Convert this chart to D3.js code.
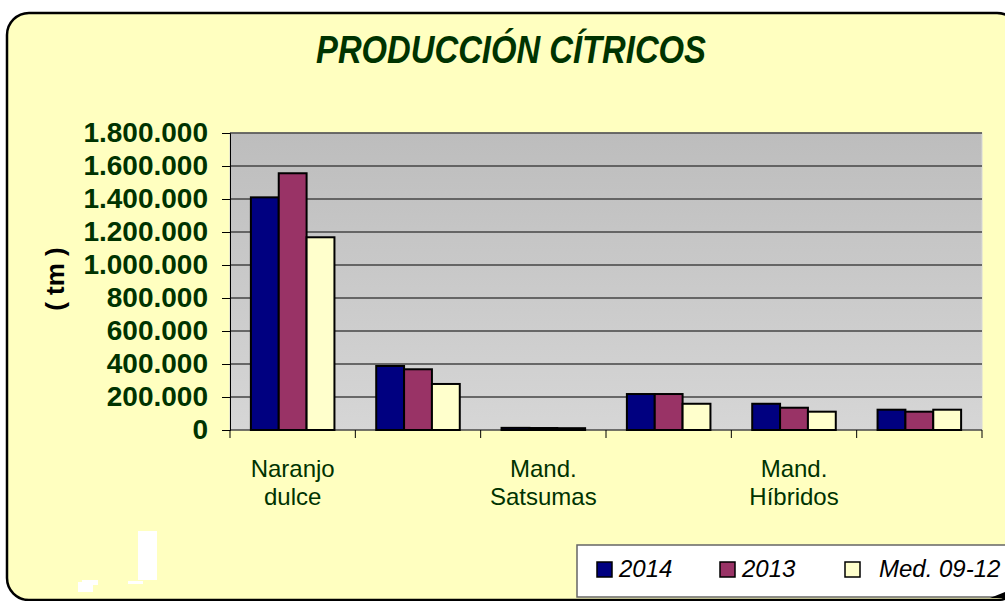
<!DOCTYPE html>
<html lang="es">
<head>
  <meta charset="UTF-8">
  <title>Producción cítricos</title>
  <script src="https://d3js.org/d3.v7.min.js"></script>
  <style>
    body { margin: 0; background: #ffffff; }
    svg { display: block; font-family: "Liberation Sans", Arial, sans-serif; }
  </style>
</head>
<body>
  <svg id="chart"></svg>

  <script>
    // data (tm)
    const categories = ["Naranjo dulce", "c2", "Mand. Satsumas", "c4", "Mand. Híbridos", "c6"];
    const catLabels = [["Naranjo", "dulce"], [], ["Mand.", "Satsumas"], [], ["Mand.", "Híbridos"], []];
    const seriesNames = ["2014", "2013", "Med. 09-12"];
    const serie2014 = [1410000, 388000, 13000, 218000, 159000, 123000];
    const serie2013 = [1556000, 368000, 12000, 218000, 135000, 111000];
    const serieMed = [1168000, 279000, 11000, 159000, 111000, 123000];
    const yTicks = [0, 200000, 400000, 600000, 800000, 1000000, 1200000, 1400000, 1600000, 1800000];

    const colors = ["#000080", "#993366", "#ffffcc"];
    const seriesValues = [serie2014, serie2013, serieMed];

    const width = 1005, height = 601;
    const svg = d3.select("#chart").attr("width", width).attr("height", height);

    const plot = { left: 230, right: 982, top: 133, bottom: 430 };

    // chart area with rounded border
    svg.append("rect")
      .attr("x", 7).attr("y", 13).attr("width", 1012).attr("height", 587)
      .attr("rx", 22).attr("ry", 22)
      .attr("fill", "#ffffc0").attr("stroke", "#000").attr("stroke-width", 2.5);

    // white leftovers at bottom left
    const junk = [[138, 531, 19, 49], [128, 581, 15, 3], [78, 582, 15, 10], [82, 580, 16, 5]];
    svg.selectAll("rect.junk").data(junk).enter().append("rect")
      .attr("class", "junk")
      .attr("x", d => d[0]).attr("y", d => d[1]).attr("width", d => d[2]).attr("height", d => d[3])
      .attr("fill", "#fff");

    // title
    svg.append("text")
      .attr("x", 511).attr("y", 63)
      .attr("text-anchor", "middle")
      .attr("font-size", 38).attr("font-weight", "bold").attr("font-style", "italic")
      .attr("textLength", 390).attr("lengthAdjust", "spacingAndGlyphs")
      .attr("fill", "#003300")
      .text("PRODUCCIÓN CÍTRICOS");

    const x = d3.scaleBand().domain(categories).range([plot.left, plot.right]);
    const inner = d3.scaleBand().domain(seriesNames)
      .range([0, x.bandwidth()]).paddingOuter(0.75).paddingInner(0);
    const y = d3.scaleLinear().domain([0, 1800000]).range([plot.bottom, plot.top]);

    // plot background gradient
    const defs = svg.append("defs");
    const grad = defs.append("linearGradient").attr("id", "bg")
      .attr("x1", 0).attr("y1", 0).attr("x2", 0).attr("y2", 1);
    grad.append("stop").attr("offset", "0%").attr("stop-color", "#bdbdbd");
    grad.append("stop").attr("offset", "100%").attr("stop-color", "#d6d6d6");

    svg.append("rect")
      .attr("x", plot.left).attr("y", plot.top)
      .attr("width", plot.right - plot.left).attr("height", plot.bottom - plot.top)
      .attr("fill", "url(#bg)").attr("stroke", "#d8d8d8");

    // gridlines
    svg.append("g").selectAll("line").data(yTicks.filter(d => d > 0)).enter().append("line")
      .attr("x1", plot.left).attr("x2", plot.right)
      .attr("y1", d => y(d)).attr("y2", d => y(d))
      .attr("stroke", "#444").attr("stroke-width", 1.5);

    // bars
    const groups = svg.append("g").selectAll("g").data(categories).enter().append("g")
      .attr("transform", d => `translate(${x(d)},0)`);
    groups.selectAll("rect")
      .data((d, i) => seriesNames.map((s, j) => ({ s: s, v: seriesValues[j][i], c: colors[j] })))
      .enter().append("rect")
      .attr("x", d => inner(d.s))
      .attr("y", d => y(d.v))
      .attr("width", inner.bandwidth())
      .attr("height", d => y(0) - y(d.v))
      .attr("fill", d => d.c)
      .attr("stroke", "#000").attr("stroke-width", 2);

    // y axis
    const fmt = d3.formatLocale({ decimal: ",", thousands: ".", grouping: [3], currency: ["", ""] }).format(",");
    const yAxis = svg.append("g")
      .attr("transform", `translate(${plot.left},0)`)
      .call(d3.axisLeft(y).tickValues(yTicks).tickFormat(fmt).tickSize(8).tickPadding(14));
    yAxis.select(".domain").attr("stroke", "#000");
    yAxis.selectAll(".tick line").attr("stroke", "#000");
    yAxis.selectAll(".tick text")
      .attr("font-family", "'Liberation Sans', Arial, sans-serif")
      .attr("font-size", 28).attr("font-weight", "bold").attr("fill", "#003300");

    // x axis line and ticks at band edges
    svg.append("line")
      .attr("x1", plot.left).attr("x2", plot.right)
      .attr("y1", plot.bottom).attr("y2", plot.bottom)
      .attr("stroke", "#000");
    const edges = categories.map(c => x(c)).concat([plot.right]);
    svg.append("g").selectAll("line").data(edges).enter().append("line")
      .attr("x1", d => d).attr("x2", d => d)
      .attr("y1", plot.bottom).attr("y2", plot.bottom + 8)
      .attr("stroke", "#000");

    // category labels
    const lbl = svg.append("g").selectAll("text").data(categories).enter().append("text")
      .attr("text-anchor", "middle")
      .attr("font-size", 24).attr("fill", "#003300");
    lbl.selectAll("tspan").data((d, i) => catLabels[i]).enter().append("tspan")
      .attr("x", function () { return x(d3.select(this.parentNode).datum()) + x.bandwidth() / 2; })
      .attr("y", (d, i) => 477 + i * 28)
      .text(d => d);

    // axis title
    svg.append("text")
      .attr("transform", "translate(55,279) rotate(-90)")
      .attr("text-anchor", "middle").attr("dominant-baseline", "central")
      .attr("font-size", 26).attr("font-weight", "bold").attr("fill", "#000")
      .text("( tm )");

    // legend
    svg.append("rect")
      .attr("x", 577).attr("y", 545).attr("width", 440).attr("height", 52)
      .attr("fill", "#fff").attr("stroke", "#666").attr("stroke-width", 1.5);
    svg.append("path")
      .attr("d", "M990,598 L1005,598 L1005,592 Z")
      .attr("fill", "#000");

    const legendPos = [{ sx: 597, tx: 619 }, { sx: 720, tx: 742 }, { sx: 845, tx: 879 }];
    const leg = svg.append("g").selectAll("g").data(seriesNames).enter().append("g");
    leg.append("rect")
      .attr("x", (d, i) => legendPos[i].sx).attr("y", 562)
      .attr("width", 15).attr("height", 15)
      .attr("fill", (d, i) => colors[i]).attr("stroke", "#000").attr("stroke-width", 1.5);
    leg.append("text")
      .attr("x", (d, i) => legendPos[i].tx).attr("y", 577)
      .attr("font-size", 24).attr("font-style", "italic").attr("fill", "#000")
      .text(d => d);
  </script>
</body>
</html>
